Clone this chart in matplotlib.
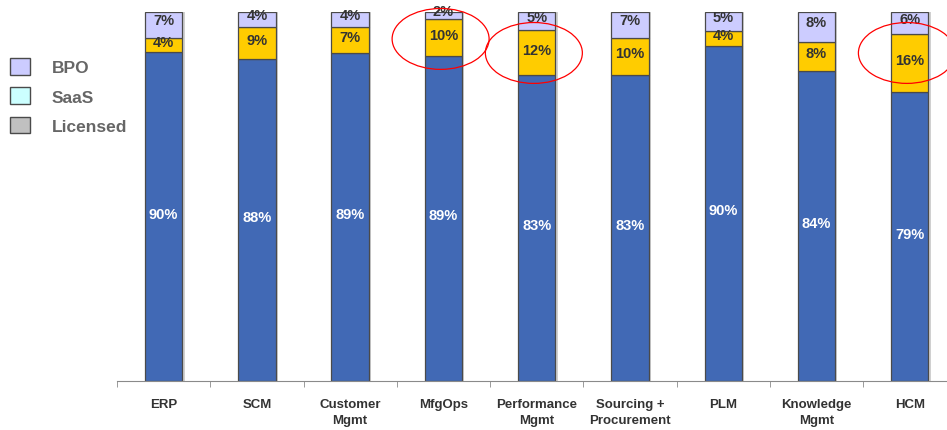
import matplotlib.pyplot as plt
from matplotlib.patches import Ellipse, Patch
import numpy as np

plt.rcParams['font.family'] = ['Liberation Sans', 'DejaVu Sans']

categories = ["ERP", "SCM", "Customer\nMgmt", "MfgOps", "Performance\nMgmt",
              "Sourcing +\nProcurement", "PLM", "Knowledge\nMgmt", "HCM"]
licensed = [90, 88, 89, 89, 83, 83, 90, 84, 79]
saas = [4, 9, 7, 10, 12, 10, 4, 8, 16]
bpo = [7, 4, 4, 2, 5, 7, 5, 8, 6]
circled = ["MfgOps", "Performance\nMgmt", "HCM"]

blue = "#4169B5"
gold = "#FFCC00"
lav = "#CCCCFF"
edge = "#4a4a4a"
txt = "#333333"

lic = np.array(licensed, float)
saa = np.array(saas, float)
bp = np.array(bpo, float)
tot = lic + saa + bp
# bars are drawn as 100% stacks
lic_h = lic / tot * 100
saa_h = saa / tot * 100
bp_h = bp / tot * 100

x = np.arange(len(categories))
w = 0.4

fig = plt.figure(figsize=(9.47, 4.31), dpi=100)
ax = fig.add_axes([117 / 947, 49 / 431, 830 / 947, 369 / 431])

# faint shadow on the right of each bar
ax.bar(x + 0.025, lic_h + saa_h + bp_h, w, color="#d0d0d0", zorder=1)
ax.bar(x, lic_h, w, color=blue, edgecolor=edge, linewidth=0.9, zorder=2)
ax.bar(x, saa_h, w, bottom=lic_h, color=gold, edgecolor=edge, linewidth=0.9, zorder=2)
ax.bar(x, bp_h, w, bottom=lic_h + saa_h, color=lav, edgecolor=edge, linewidth=0.9, zorder=2)

for i in range(len(categories)):
    ax.text(x[i], lic_h[i] / 2 + 0.8, f"{licensed[i]}%", ha="center", va="center",
            color="white", fontsize=10.5, fontweight="bold", zorder=3)
    ax.text(x[i], lic_h[i] + saa_h[i] / 2 + 0.8, f"{saas[i]}%", ha="center", va="center",
            color=txt, fontsize=10.5, fontweight="bold", zorder=3)
    ax.text(x[i], lic_h[i] + saa_h[i] + bp_h[i] / 2 + 1.2, f"{bpo[i]}%", ha="center",
            va="center", color=txt, fontsize=10.5, fontweight="bold", zorder=3)

# red highlight ellipses
for c in circled:
    i = categories.index(c)
    cy = 92.7 if c == "MfgOps" else 88.9
    ax.add_patch(Ellipse((x[i] - 0.03, cy), 1.04, 16.5, fill=False, edgecolor="red",
                         linewidth=0.9, zorder=4, clip_on=False))

ax.set_xlim(-0.5, 8.4)
ax.set_ylim(0, 100)
ax.set_yticks([])
for s in ["top", "right", "left"]:
    ax.spines[s].set_visible(False)
ax.spines["bottom"].set_color("#8a8a8a")
ax.set_xticks(x)
ax.set_xticklabels(categories, fontsize=9.5, fontweight="bold", color=txt, linespacing=1.5)
ax.tick_params(axis="x", which="major", length=0, pad=12)
ax.set_xticks(np.arange(-0.5, 8.4, 1.0), minor=True)
ax.tick_params(axis="x", which="minor", length=4, color="#8a8a8a", direction="out")

handles = [Patch(facecolor=lav, edgecolor=edge), Patch(facecolor="#CCFFFF", edgecolor=edge),
           Patch(facecolor="#C0C0C0", edgecolor=edge)]
leg = fig.legend(handles, ["BPO", "SaaS", "Licensed"], loc="upper left",
                 bbox_to_anchor=(10 / 947, 1 - 59 / 431), frameon=False,
                 borderpad=0, borderaxespad=0,
                 prop={"size": 12.5, "weight": "bold"}, handlelength=1.15,
                 handleheight=1.1, handletextpad=1.25, labelspacing=0.7)
for t in leg.get_texts():
    t.set_color("#666666")

fig.savefig("out.png", dpi=100)
